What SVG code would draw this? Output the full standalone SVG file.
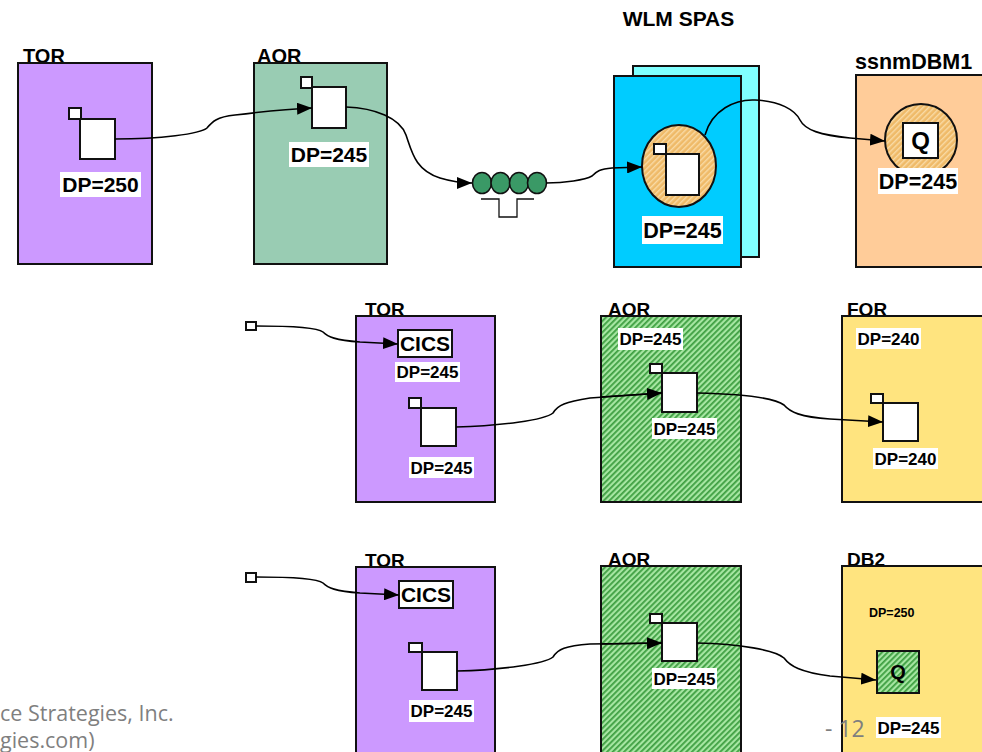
<svg xmlns="http://www.w3.org/2000/svg" width="982" height="752" viewBox="0 0 982 752">
<defs>
<style>
.box{stroke:#111;stroke-width:2}
.sq{fill:#fff;stroke:#111;stroke-width:2}
.lbl{font-family:"Liberation Sans",Arial,sans-serif;font-weight:bold;fill:#000}
.bg{fill:#fff}
.conn{fill:none;stroke:#000;stroke-width:1.6}
.foot{font-family:"Open Sans","Liberation Sans",sans-serif;fill:#7f7f7f}
</style>
<pattern id="green" patternUnits="userSpaceOnUse" width="4" height="4" patternTransform="rotate(45)">
<rect width="4" height="4" fill="#a6e6a2"/>
<rect width="1.8" height="4" fill="#3f9f42"/>
</pattern>
<pattern id="orange" patternUnits="userSpaceOnUse" width="4" height="4" patternTransform="rotate(45)">
<rect width="4" height="4" fill="#efba68"/>
<rect width="1.4" height="4" fill="#f9dba6"/>
</pattern>
<marker id="arr" markerUnits="userSpaceOnUse" markerWidth="15" markerHeight="12" refX="15" refY="6" orient="auto">
<path d="M0,0 L15,6 L0,12 z" fill="#000"/>
</marker>
</defs>
<rect width="982" height="752" fill="#fff"/>

<g id="tor1">
<text class="lbl" x="23" y="63" font-size="20">TOR</text>
<rect class="box" x="18" y="63" width="134" height="201" fill="#cc99ff"/>
<rect class="sq" x="69" y="108" width="12" height="11"/>
<rect class="sq" x="80" y="119" width="35" height="40"/>
<rect class="bg" x="60" y="172" width="81" height="25"/>
<text class="lbl" x="100.5" y="192" font-size="21" text-anchor="middle">DP=250</text>
</g>

<g id="aor1">
<text class="lbl" x="257" y="63" font-size="20">AOR</text>
<rect class="box" x="254" y="63" width="133" height="201" fill="#99ccb3"/>
<rect class="sq" x="301" y="77" width="11" height="11"/>
<rect class="sq" x="312" y="87" width="34" height="41"/>
<rect class="bg" x="289" y="142" width="80" height="25"/>
<text class="lbl" x="329" y="162" font-size="21" text-anchor="middle">DP=245</text>
</g>

<g id="queue">
<ellipse cx="482" cy="183" rx="9.5" ry="10.5" fill="#3a9966" stroke="#111" stroke-width="1.6"/>
<ellipse cx="500.5" cy="183" rx="9.5" ry="10.5" fill="#3a9966" stroke="#111" stroke-width="1.6"/>
<ellipse cx="519" cy="183" rx="9.5" ry="10.5" fill="#3a9966" stroke="#111" stroke-width="1.6"/>
<ellipse cx="537" cy="183" rx="9.5" ry="10.5" fill="#3a9966" stroke="#111" stroke-width="1.6"/>
<path d="M481,199 H499 V217 H517 V199 H534" fill="none" stroke="#111" stroke-width="1.3"/>
</g>

<g id="wlm">
<text class="lbl" x="678.5" y="26" font-size="21" text-anchor="middle">WLM SPAS</text>
<rect class="box" x="633" y="66" width="126" height="191" fill="#80ffff"/>
<rect class="box" x="614" y="76" width="127" height="191" fill="#00ccff"/>
<ellipse cx="679" cy="166" rx="37" ry="41" fill="url(#orange)" stroke="#111" stroke-width="2"/>
<rect class="sq" x="654" y="144" width="12" height="10"/>
<rect class="sq" x="666" y="154" width="33" height="41"/>
<rect class="bg" x="642" y="216" width="81" height="28"/>
<text class="lbl" x="682.5" y="238" font-size="21.5" text-anchor="middle">DP=245</text>
</g>

<g id="dbm1">
<text class="lbl" x="855" y="69" font-size="21.5">ssnmDBM1</text>
<rect class="box" x="856" y="75" width="130" height="192" fill="#ffcc99"/>
<circle cx="921" cy="140" r="36" fill="url(#orange)" stroke="#111" stroke-width="2"/>
<rect class="sq" x="903" y="123" width="35" height="35"/>
<text class="lbl" x="920.5" y="149" font-size="24" text-anchor="middle">Q</text>
<rect class="bg" x="878" y="168" width="80" height="26"/>
<text class="lbl" x="918" y="189" font-size="21.5" text-anchor="middle">DP=245</text>
</g>

<g id="start2">
<rect class="sq" x="246" y="322" width="10" height="8" stroke-width="1.8"/>
</g>

<g id="tor2">
<text class="lbl" x="365" y="316" font-size="19">TOR</text>
<rect class="box" x="356" y="316" width="139" height="186" fill="#cc99ff"/>
<rect class="sq" x="398" y="330" width="54" height="27"/>
<text class="lbl" x="425" y="351" font-size="21" text-anchor="middle">CICS</text>
<rect class="bg" x="395" y="362" width="65" height="20"/>
<text class="lbl" x="427.5" y="378" font-size="17" text-anchor="middle">DP=245</text>
<rect class="sq" x="409" y="398" width="12" height="10"/>
<rect class="sq" x="421" y="408" width="35" height="38"/>
<rect class="bg" x="409" y="457" width="65" height="21"/>
<text class="lbl" x="441.5" y="474" font-size="17" text-anchor="middle">DP=245</text>
</g>

<g id="aor2">
<text class="lbl" x="608" y="316" font-size="19">AOR</text>
<rect class="box" x="601" y="316" width="140" height="186" fill="url(#green)"/>
<rect class="bg" x="618" y="328" width="65" height="22"/>
<text class="lbl" x="650.5" y="345" font-size="17" text-anchor="middle">DP=245</text>
<rect class="sq" x="650" y="364" width="12" height="9"/>
<rect class="sq" x="662" y="373" width="35" height="39"/>
<rect class="bg" x="652" y="418" width="65" height="21"/>
<text class="lbl" x="684.5" y="435" font-size="17" text-anchor="middle">DP=245</text>
</g>

<g id="for2">
<text class="lbl" x="847" y="316" font-size="19">FOR</text>
<rect class="box" x="842" y="316" width="142" height="186" fill="#ffe47f"/>
<rect class="bg" x="856" y="328" width="65" height="21"/>
<text class="lbl" x="888.5" y="345" font-size="17" text-anchor="middle">DP=240</text>
<rect class="sq" x="871" y="394" width="12" height="9"/>
<rect class="sq" x="883" y="403" width="35" height="38"/>
<rect class="bg" x="873" y="448" width="65" height="21"/>
<text class="lbl" x="905.5" y="465" font-size="17" text-anchor="middle">DP=240</text>
</g>

<g id="start3">
<rect class="sq" x="246" y="573" width="10" height="9" stroke-width="1.8"/>
</g>

<g id="tor3">
<text class="lbl" x="365" y="567" font-size="19">TOR</text>
<rect class="box" x="356" y="567" width="139" height="190" fill="#cc99ff"/>
<rect class="sq" x="399" y="581" width="54" height="27"/>
<text class="lbl" x="426" y="602" font-size="21" text-anchor="middle">CICS</text>
<rect class="sq" x="409" y="643" width="13" height="9"/>
<rect class="sq" x="422" y="652" width="35" height="38"/>
<rect class="bg" x="409" y="700" width="65" height="22"/>
<text class="lbl" x="441.5" y="717" font-size="17" text-anchor="middle">DP=245</text>
</g>

<g id="aor3">
<text class="lbl" x="608" y="566" font-size="19">AOR</text>
<rect class="box" x="601" y="566" width="140" height="191" fill="url(#green)"/>
<rect class="sq" x="650" y="614" width="12" height="9"/>
<rect class="sq" x="662" y="623" width="35" height="38"/>
<rect class="bg" x="652" y="668" width="65" height="21"/>
<text class="lbl" x="684.5" y="685" font-size="17" text-anchor="middle">DP=245</text>
</g>

<g id="db2">
<text class="lbl" x="847" y="566" font-size="19">DB2</text>
<rect class="box" x="842" y="566" width="142" height="191" fill="#ffe47f"/>
<text class="lbl" x="869" y="617" font-size="12.5">DP=250</text>
<rect x="877" y="651" width="42" height="42" fill="url(#green)" stroke="#111" stroke-width="2"/>
<text class="lbl" x="898" y="679" font-size="20" text-anchor="middle">Q</text>
<rect class="bg" x="876" y="717" width="65" height="21"/>
<text class="lbl" x="908.5" y="734" font-size="17" text-anchor="middle">DP=245</text>
</g>

<g id="connectors">
<path class="conn" marker-end="url(#arr)" d="M115,139 C160,139 200,134 207,128 C212,122 216,117 235,115 C260,112 290,109 312,108"/>
<path class="conn" marker-end="url(#arr)" d="M346,107 C375,108 400,118 406,135 C412,152 415,170 440,178 C450,181 460,183 472,183"/>
<path class="conn" marker-end="url(#arr)" d="M546,183 C565,183 585,180 592,176 C597,171 600,169 612,168 L642,167"/>
<path class="conn" marker-end="url(#arr)" d="M705,135 C712,110 735,99 755,100 C780,101 795,110 800,120 C805,130 820,135 850,138 L885,141"/>
<path class="conn" marker-end="url(#arr)" d="M256,326 C290,326 318,328 323,332 C328,337 335,340 360,342 L398,344"/>
<path class="conn" d="M456,427 C500,426 545,420 553,413 C558,405 565,402 590,398 L662,393"/>
<path class="conn" marker-end="url(#arr)" d="M600,397 L662,393"/>
<path class="conn" marker-end="url(#arr)" d="M697,393 C740,394 775,398 784,405 C790,412 800,417 830,419 L883,422"/>
<path class="conn" marker-end="url(#arr)" d="M256,577 C290,577 318,579 323,583 C328,588 335,591 360,593 L399,595"/>
<path class="conn" d="M457,671 C500,670 545,664 553,657 C558,649 565,646 590,644 L662,643"/>
<path class="conn" marker-end="url(#arr)" d="M600,644 L662,643"/>
<path class="conn" marker-end="url(#arr)" d="M697,643 C740,644 775,650 784,658 C790,666 800,672 830,676 L876,680"/>
</g>

<g id="footer">
<text class="foot" x="0" y="721" font-size="21.5">ce Strategies, Inc.</text>
<text class="foot" x="0" y="748" font-size="21.5">gies.com)</text>
<text class="foot" x="825" y="737" font-size="23" fill="#a6a6a6">- 12</text>
</g>
</svg>
